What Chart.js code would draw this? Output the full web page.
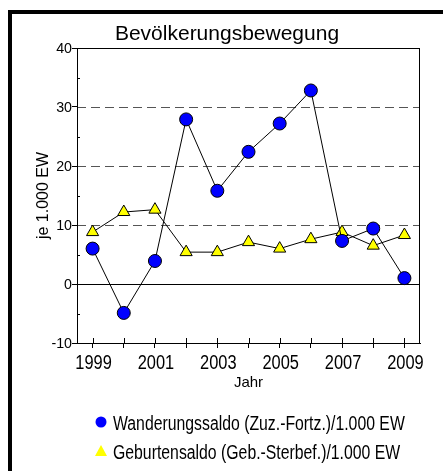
<!DOCTYPE html>
<html>
<head>
<meta charset="utf-8">
<script src="https://cdn.jsdelivr.net/npm/chart.js@4.4.1/dist/chart.umd.min.js"></script>
<style>
  body { margin: 0; background: #fff; }
</style>
</head>
<body>
<canvas id="chart" width="443" height="471"></canvas>
<script>
// Data
const years = ['1999', '2000', '2001', '2002', '2003', '2004', '2005', '2006', '2007', '2008', '2009'];
const wanderungssaldo = [6.0, -4.9, 3.9, 27.9, 15.8, 22.4, 27.2, 32.8, 7.3, 9.4, 1.0];
const geburtensaldo = [8.8, 12.2, 12.6, 5.4, 5.4, 7.1, 6.0, 7.6, 8.8, 6.5, 8.3];
const yGridDashed = [10, 20, 30];
const legendLabels = [
  'Wanderungssaldo (Zuz.-Fortz.)/1.000 EW',
  'Geburtensaldo (Geb.-Sterbef.)/1.000 EW',
];

const ARIAL = '"Liberation Sans", Arial, sans-serif';

// no Arial Narrow installed, so squeeze Liberation Sans horizontally
function narrowText(ctx, text, x, y, align, sx) {
  ctx.save();
  ctx.translate(x, y);
  ctx.scale(sx, 1);
  ctx.textAlign = align;
  ctx.fillText(text, 0, 0);
  ctx.restore();
}

// Frame, grid lines, inner ticks, titles and legend
const decorations = {
  id: 'decorations',
  beforeDraw(chart) {
    const ctx = chart.ctx;
    ctx.save();
    ctx.fillStyle = '#fff';
    ctx.fillRect(0, 0, chart.width, chart.height);
    // thick outer frame (only top and left visible)
    ctx.fillStyle = '#000';
    ctx.fillRect(8, 10, 4, chart.height);
    ctx.fillRect(8, 10, chart.width, 4);
    ctx.restore();
  },
  beforeDatasetsDraw(chart) {
    const { ctx, chartArea: a, scales } = chart;
    const y = scales.y;
    const x = scales.x;
    ctx.save();
    ctx.lineWidth = 1;

    // dashed grid lines
    ctx.strokeStyle = '#555';
    ctx.setLineDash([9, 5]);
    yGridDashed.forEach((v) => {
      const py = Math.round(y.getPixelForValue(v)) + 0.5;
      ctx.beginPath();
      ctx.moveTo(a.left, py);
      ctx.lineTo(a.right, py);
      ctx.stroke();
    });
    ctx.setLineDash([]);

    // zero line
    ctx.strokeStyle = '#000';
    const p0 = Math.round(y.getPixelForValue(0)) + 0.5;
    ctx.beginPath();
    ctx.moveTo(a.left, p0);
    ctx.lineTo(a.right, p0);
    ctx.stroke();

    // minor ticks inside on y
    y.ticks.forEach((t) => {
      if (t.value % 10 !== 0) {
        const py = Math.round(y.getPixelForValue(t.value)) + 0.5;
        ctx.beginPath();
        ctx.moveTo(a.left, py);
        ctx.lineTo(a.left + 3, py);
        ctx.stroke();
      }
    });

    // x ticks, upper part inside the plot
    years.forEach((yr, i) => {
      const px = Math.round(x.getPixelForValue(i)) + 0.5;
      ctx.beginPath();
      ctx.moveTo(px, a.bottom - 5);
      ctx.lineTo(px, a.bottom);
      ctx.stroke();
    });

    // plot frame
    ctx.strokeRect(a.left + 0.5, a.top + 0.5, a.right - a.left - 1, a.bottom - a.top);
    ctx.restore();
  },
  afterDraw(chart) {
    const { ctx, chartArea: a, scales } = chart;
    ctx.save();
    ctx.fillStyle = '#000';

    // title
    ctx.font = '21px ' + ARIAL;
    ctx.textAlign = 'center';
    ctx.textBaseline = 'alphabetic';
    ctx.fillText('Bevölkerungsbewegung', 227, 40);

    // x axis title
    ctx.font = '15px ' + ARIAL;
    ctx.fillText('Jahr', (a.left + a.right) / 2, 387);

    // y axis title
    ctx.save();
    ctx.translate(48, (a.top + a.bottom) / 2);
    ctx.rotate(-Math.PI / 2);
    ctx.font = '16px ' + ARIAL;
    ctx.fillText('je 1.000 EW', 0, 0);
    ctx.restore();

    // y tick labels
    ctx.font = '15px ' + ARIAL;
    ctx.textBaseline = 'middle';
    scales.y.ticks.forEach((t) => {
      if (t.value % 10 === 0) {
        narrowText(ctx, String(t.value), 72, scales.y.getPixelForValue(t.value) + 0.5, 'right', 0.95);
      }
    });

    // x tick labels, every second year
    ctx.font = '20px ' + ARIAL;
    ctx.textBaseline = 'alphabetic';
    scales.x.ticks.forEach((t, i) => {
      if (i % 2 === 0) {
        narrowText(ctx, years[i], scales.x.getPixelForTick(i) + 1, 369, 'center', 0.82);
      }
    });

    // legend
    const ds = chart.data.datasets;
    ctx.font = '20px ' + ARIAL;
    const rows = [430, 459];
    ds.forEach((d, i) => {
      const cy = rows[i] - 8;
      ctx.fillStyle = d.pointBackgroundColor;
      ctx.beginPath();
      if (d.pointStyle === 'circle') {
        ctx.arc(101, cy, 5.5, 0, Math.PI * 2);
      } else {
        ctx.moveTo(101, cy - 6);
        ctx.lineTo(107, cy + 5);
        ctx.lineTo(95, cy + 5);
        ctx.closePath();
      }
      ctx.fill();
      ctx.fillStyle = '#000';
      narrowText(ctx, legendLabels[i], 113, rows[i], 'left', 0.79);
    });
    ctx.restore();
  },
};

new Chart(document.getElementById('chart'), {
  type: 'line',
  data: {
    labels: years,
    datasets: [
      {
        label: legendLabels[0],
        data: wanderungssaldo,
        borderColor: '#000',
        borderWidth: 1,
        pointStyle: 'circle',
        pointRadius: 6.5,
        pointBackgroundColor: '#0000ff',
        pointBorderColor: '#000',
        pointBorderWidth: 1,
        tension: 0,
      },
      {
        label: legendLabels[1],
        data: geburtensaldo,
        borderColor: '#000',
        borderWidth: 1,
        pointStyle: 'triangle',
        pointRadius: 7,
        pointBackgroundColor: '#ffff00',
        pointBorderColor: '#000',
        pointBorderWidth: 1,
        tension: 0,
      },
    ],
  },
  options: {
    responsive: false,
    animation: false,
    layout: { padding: { left: 0, top: 48, right: 23, bottom: 0 } },
    plugins: {
      legend: { display: false },
      title: { display: false },
      tooltip: { enabled: false },
    },
    scales: {
      x: {
        type: 'category',
        offset: true,
        afterFit: (scale) => { scale.height = 128; },
        grid: {
          offset: false,
          drawOnChartArea: false,
          drawTicks: true,
          tickLength: 5,
          tickColor: '#000',
        },
        border: { display: true, color: '#000', width: 1 },
        ticks: { display: false, autoSkip: false, maxRotation: 0 },
      },
      y: {
        min: -10,
        max: 40,
        afterFit: (scale) => { scale.width = 77; },
        grid: {
          drawOnChartArea: false,
          drawTicks: true,
          tickLength: 5,
          tickColor: (c) => (c.tick && c.tick.value % 10 === 0 ? '#000' : 'rgba(0,0,0,0)'),
        },
        border: { display: true, color: '#000', width: 1 },
        ticks: { display: false, stepSize: 5 },
      },
    },
  },
  plugins: [decorations],
});
</script>
</body>
</html>
